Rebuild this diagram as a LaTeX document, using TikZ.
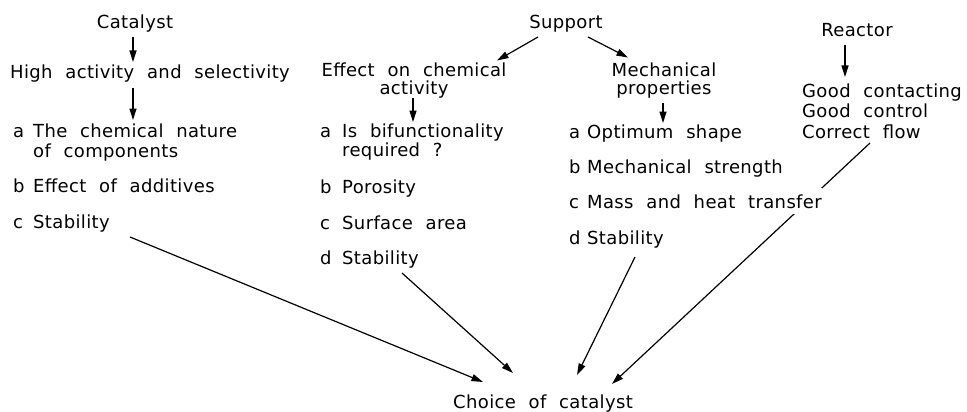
\documentclass[tikz,border=0pt]{standalone}
\usepackage{fontspec}
\setmainfont{DejaVu Sans}[LetterSpace=2, WordSpace=2.1]
\usetikzlibrary{arrows.meta,calc,backgrounds}
\begin{document}
\begin{tikzpicture}[x=1pt,y=-1pt,
  every node/.style={inner sep=0pt, font=\fontsize{18}{21}\selectfont},
  txt/.style={anchor=base west},
  ctxt/.style={anchor=base},
  head/.style={anchor=south, align=center, font=\fontsize{18}{18.5}\selectfont},
  arr/.style={line width=1.2pt,-{Triangle[length=11.5pt,width=7pt]}}]
\useasboundingbox (0,0) rectangle (967,412);
% Catalyst column
\node[ctxt] (cat) at (135,29) {Catalyst};
\node[txt] (high) at (10,78) {High activity and selectivity};
\node[txt] (ca1) at (13,137) {\makebox[20pt][l]{a}The chemical nature};
\node[txt] (ca2) at (33,157) {of components};
\node[txt] (cb) at (13,192) {\makebox[20pt][l]{b}Effect of additives};
\node[txt] (cc) at (13,228) {\makebox[20pt][l]{c}Stability};
% Support column
\node[ctxt] (sup) at (566,29) {Support};
\node[head] (ef) at (414,98.5) {Effect on chemical\\activity};
\node[txt] (sa1) at (320,137) {\makebox[22pt][l]{a}Is bifunctionality};
\node[txt] (sa2) at (342,156) {required ?};
\node[txt] (sb) at (320,193) {\makebox[22pt][l]{b}Porosity};
\node[txt] (sc) at (320,229) {\makebox[22pt][l]{c}Surface area};
\node[txt] (sd) at (320,264) {\makebox[22pt][l]{d}Stability};
\node[head] (me) at (664,98.5) {Mechanical\\properties};
\node[txt] (ma) at (569,138) {\makebox[18pt][l]{a}Optimum shape};
\node[txt] (mb) at (569,173) {\makebox[18pt][l]{b}Mechanical strength};
\node[txt, fill=white, inner ysep=6pt] (mc) at (569,208) {\makebox[18pt][l]{c}Mass and heat transfer};
\node[txt] (md) at (569,244) {\makebox[18pt][l]{d}Stability};
% Reactor column
\node[ctxt] (rea) at (857,37) {Reactor};
\node[txt] (r1) at (802,97) {Good contacting};
\node[txt] (r2) at (802,117.5) {Good control};
\node[txt] (r3) at (802,138) {Correct flow};
% Result
\node[txt] (cho) at (453,408) {Choice of catalyst};
% Connectors
\begin{scope}[on background layer]
\draw[arr] ($(cat.base)+(-2,8)$) -- ($(high.base west)+(123,-16)$);
\draw[arr] ($(high.base west)+(123,10)$) -- ($(ca1.base west)+(120,-17)$);
\draw[arr] ($(cc.base west)+(117,9)$) -- ($(cho.base west)+(30,-26)$);
\draw[arr] ($(sup.base)+(-28,8)$) -- ($(ef.south)+(83,-38)$);
\draw[arr] ($(sup.base)+(22,8)$) -- ($(me.south)+(-36,-41)$);
\draw[arr] ($(ef.south)+(-1,0)$) -- ($(sa1.base west)+(93,-15)$);
\draw[arr] ($(me.south)+(-1,4)$) -- ($(ma.base west)+(94,-15)$);
\draw[arr] ($(sd.base west)+(82,9)$) -- ($(cho.base west)+(60,-35)$);
\draw[arr] ($(md.base west)+(66,13)$) -- ($(cho.base west)+(124,-33)$);
\draw[arr] ($(rea.base)+(-12,8)$) -- ($(r1.base west)+(43,-20)$);
\draw[arr] ($(r3.base west)+(68,5)$) -- ($(cho.base west)+(159,-24)$);
\end{scope}
\end{tikzpicture}
\end{document}
